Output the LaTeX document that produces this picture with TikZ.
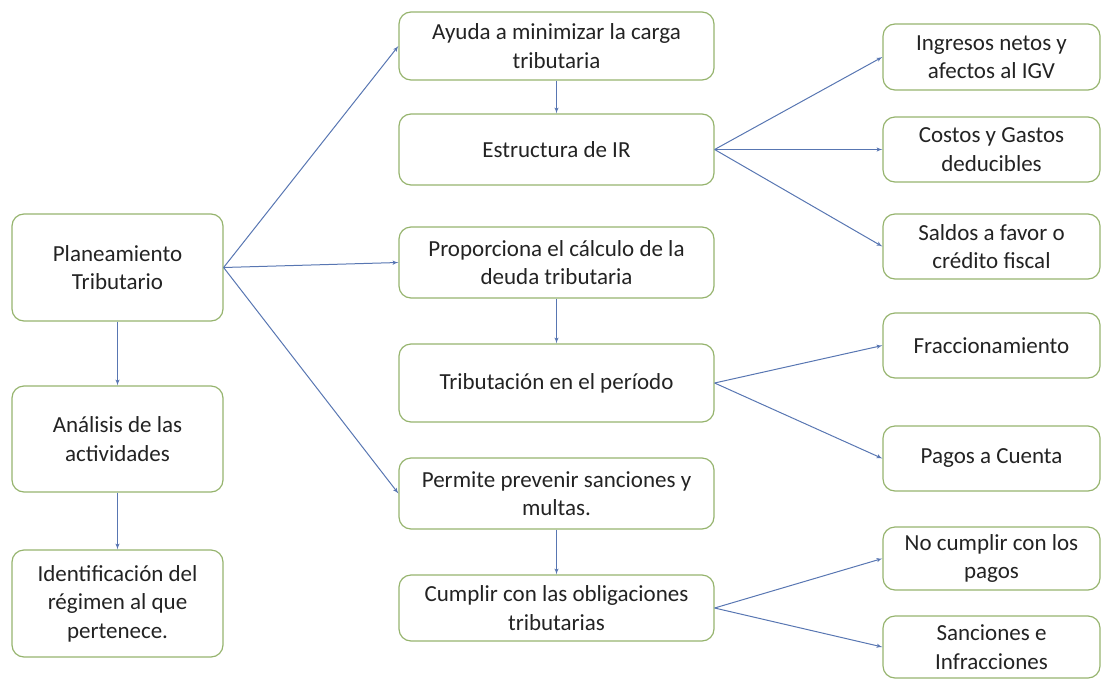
\documentclass[tikz,border=0pt]{standalone}
\usepackage{fontspec}
\setmainfont{Carlito}
\usetikzlibrary{arrows}
\definecolor{boxgreen}{RGB}{150,180,110}
\definecolor{arrblue}{RGB}{88,118,178}
\definecolor{txtgray}{RGB}{35,35,35}

\begin{document}
\begin{tikzpicture}[x=1pt,y=-1pt,
    box/.style={draw=boxgreen,line width=1.2pt,rounded corners=12pt,align=center,
      text=txtgray,font=\fontsize{23}{28.5}\selectfont,inner sep=0pt},
    leftbox/.style={box,minimum width=211pt},
    midbox/.style={box,minimum width=315pt},
    rightbox/.style={box,minimum width=217pt},
    arr/.style={-latex',draw=arrblue,line width=1pt}]
    \useasboundingbox (0,0) rectangle (1102,680);

    % left column
    \node[leftbox,minimum height=107pt] (plan) at (117.5,267.5) {Planeamiento\\Tributario};
    \node[leftbox,minimum height=106pt] (anal) at (117.5,439) {Análisis de las\\actividades};
    \node[leftbox,minimum height=107pt] (ident) at (117.5,603.5) {Identificación del\\régimen al que\\pertenece.};

    % middle column
    \node[midbox,minimum height=68pt] (ayuda) at (556.5,46) {Ayuda a minimizar la carga\\tributaria};
    \node[midbox,minimum height=71pt] (estr) at (556.5,149.5) {Estructura de IR};
    \node[midbox,minimum height=71pt] (prop) at (556.5,262.5) {Proporciona el cálculo de la\\deuda tributaria};
    \node[midbox,minimum height=78pt] (trib) at (556.5,383) {Tributación en el período};
    \node[midbox,minimum height=71pt] (perm) at (556.5,493.5) {Permite prevenir sanciones y\\multas.};
    \node[midbox,minimum height=66pt] (cumpl) at (556.5,608) {Cumplir con las obligaciones\\tributarias};

    % right column
    \node[rightbox,minimum height=66pt] (ingr) at (991.5,57) {Ingresos netos y\\afectos al IGV};
    \node[rightbox,minimum height=65pt] (cost) at (991.5,149.5) {Costos y Gastos\\deducibles};
    \node[rightbox,minimum height=65pt] (sald) at (991.5,246.5) {Saldos a favor o\\crédito fiscal};
    \node[rightbox,minimum height=65pt] (frac) at (991.5,345.5) {Fraccionamiento};
    \node[rightbox,minimum height=65pt] (pagos) at (991.5,458.5) {Pagos a Cuenta};
    \node[rightbox,minimum height=63pt] (nocum) at (991.5,558.5) {No cumplir con los\\pagos};
    \node[rightbox,minimum height=62pt] (sanc) at (991.5,647) {Sanciones e\\Infracciones};

    % connectors
    \draw[arr] (plan) -- (anal);
    \draw[arr] (anal) -- (ident);
    \foreach \t in {ayuda,prop,perm}
      \draw[arr] (plan.east) -- (\t.west);
    \draw[arr] (ayuda) -- (estr);
    \draw[arr] (prop) -- (trib);
    \draw[arr] (perm) -- (cumpl);
    \foreach \t in {ingr,cost,sald}
      \draw[arr] (estr.east) -- (\t.west);
    \foreach \t in {frac,pagos}
      \draw[arr] (trib.east) -- (\t.west);
    \foreach \t in {nocum,sanc}
      \draw[arr] (cumpl.east) -- (\t.west);
\end{tikzpicture}
\end{document}
